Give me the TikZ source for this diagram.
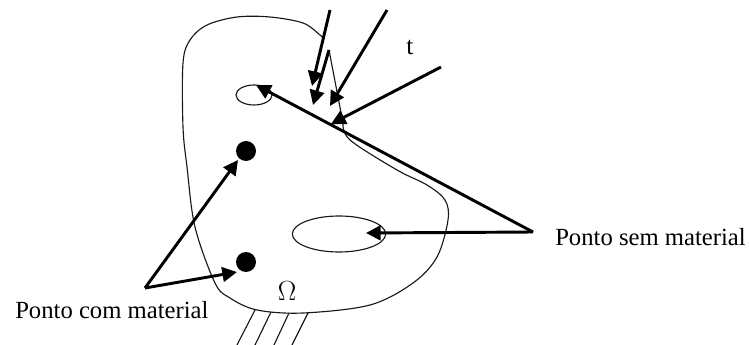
\documentclass[tikz,border=0pt]{standalone}
\usepackage{fontspec}
\setmainfont{Liberation Serif}
\usetikzlibrary{arrows.meta,shapes.geometric}
\tikzset{
  thin line/.style={line width=0.85pt,black!90},
  force/.style={line width=2.2pt,-{Triangle[length=11pt,width=11pt]}},
  dot/.style={circle,fill=black,inner sep=0pt,minimum size=15pt},
  hole/.style={ellipse,draw,line width=0.85pt,inner sep=0pt,black!90},
  lab/.style={inner sep=0pt,font=\fontsize{18.5pt}{20pt}\selectfont}
}
\begin{document}
\begin{tikzpicture}[x=0.75pt,y=-0.75pt]
\useasboundingbox (0,0) rectangle (749,345);
% body outline
\draw[thin line] plot[smooth,tension=0.55] coordinates {
 (324,39) (320,35) (303,23) (270,17) (237,17) (207,25) (190,40) (183,63) (183,127)
 (187,167) (195,227) (215,283) (230,298) (257,310) (303,313) (370,305) (413,283)
 (437,257) (448,220) (445,200) (427,185) (397,170) (350,140) (343,123)};
\draw[thin line] (343,123) -- (329,50);
\draw[thin line] (331,124) -- (343,123);
% support hatch
\coordinate (h1a) at (255,310); \coordinate (h1b) at (237,345);
\coordinate (h2a) at (271,312); \coordinate (h2b) at (255,345);
\coordinate (h3a) at (289,313); \coordinate (h3b) at (274,345);
\coordinate (h4a) at (308,313); \coordinate (h4b) at (292,345);
\draw[thin line] (h1a)--(h1b) (h2a)--(h2b) (h3a)--(h3b) (h4a)--(h4b);
% holes and dots
\node[hole,minimum width=27pt,minimum height=15pt] (small) at (254,95) {};
\node[hole,minimum width=70pt,minimum height=27pt] (big) at (339,234) {};
\node[dot] (d1) at (246,151) {};
\node[dot] (d2) at (246,262) {};
% labels
\node[lab,anchor=west] (sem) at (555,237) {Ponto sem material};
\node[lab,anchor=west] (com) at (15,310) {Ponto com material};
\node[lab,font=\fontsize{19.5pt}{20pt}\selectfont] (om) at (287,291) {$\Omega$};
\node[lab,font=\fontsize{19pt}{20pt}\selectfont] (t) at (410,47) {t};
% junctions
\coordinate (js) at (533,232);
\coordinate (jc) at (145,288);
\coordinate (f1) at (330,10); \coordinate (f1e) at (312,86);
\coordinate (f2) at (329,50); \coordinate (f2e) at (313,105);
\coordinate (f3) at (387,10); \coordinate (f3e) at (330,106);
\coordinate (f4) at (441,67); \coordinate (f4e) at (331,124);
\draw[force] (f1)--(f1e);
\draw[force] (f2)--(f2e);
\draw[force] (f3)--(f3e);
\draw[force] (f4)--(f4e);
\draw[force] (js)--(256,85);
\draw[force] (js)--(366,233);
\draw[force] (jc)--(238,160);
\draw[force] (jc)--(237,272);
\end{tikzpicture}
\end{document}
